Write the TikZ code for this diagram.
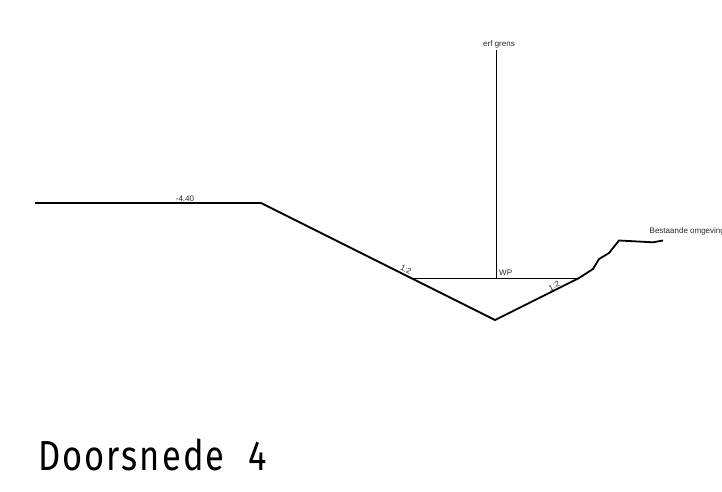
\documentclass[tikz,border=0pt]{standalone}
\usepackage{fontspec}
\setmainfont{Liberation Sans}
\newfontfamily\titlefont[LetterSpace=5,FakeStretch=0.82]{Fira Sans}
\tikzset{
  x=1pt,y=-1pt,
  ground/.style={line width=1.8pt,line join=miter},
  thinline/.style={line width=0.9pt},
  small/.style={inner sep=0pt,font=\fontsize{8}{9}\selectfont,text=black!85},
  heading/.style={inner sep=0pt,anchor=base west,font=\titlefont\fontsize{42}{44}\selectfont}
}
\begin{document}
\begin{tikzpicture}
\useasboundingbox (0,0) rectangle (722,492);
\coordinate (a) at (35,203);
\coordinate (b) at (261,203);
\coordinate (c) at (495,320);
\coordinate (d) at (579,278);
\coordinate (e) at (593,269);
\coordinate (f) at (599,259);
\coordinate (g) at (609,253);
\coordinate (h) at (619,240.5);
\coordinate (i) at (653,242.3);
\coordinate (j) at (663,240.5);
\coordinate (wl) at (413,278);
\coordinate (top) at (496,50);
\coordinate (wp) at (496,278);
\draw[ground] (a)--(b)--(c)--(d)--(e)--(f)--(g)--(h)--(i)--(j);
\draw[thinline] (wl)--(d);
\draw[thinline] (top)--(wp);
\node[small] (erf) at (499,44) {erf grens};
\node[small] (lvl) at (185,198.5) {-4.40};
\node[small,anchor=west] (wplabel) at (499,273) {WP};
\node[small,rotate=-27] (sl) at (406,269.5) {1:2};
\node[small,rotate=27] (sr) at (554,286) {1:2};
\node[small,anchor=west] (best) at (649.5,231) {Bestaande omgeving};
\node[heading] (title) at (38,470) {Doorsnede\hspace{13pt} 4};
\end{tikzpicture}
\end{document}
